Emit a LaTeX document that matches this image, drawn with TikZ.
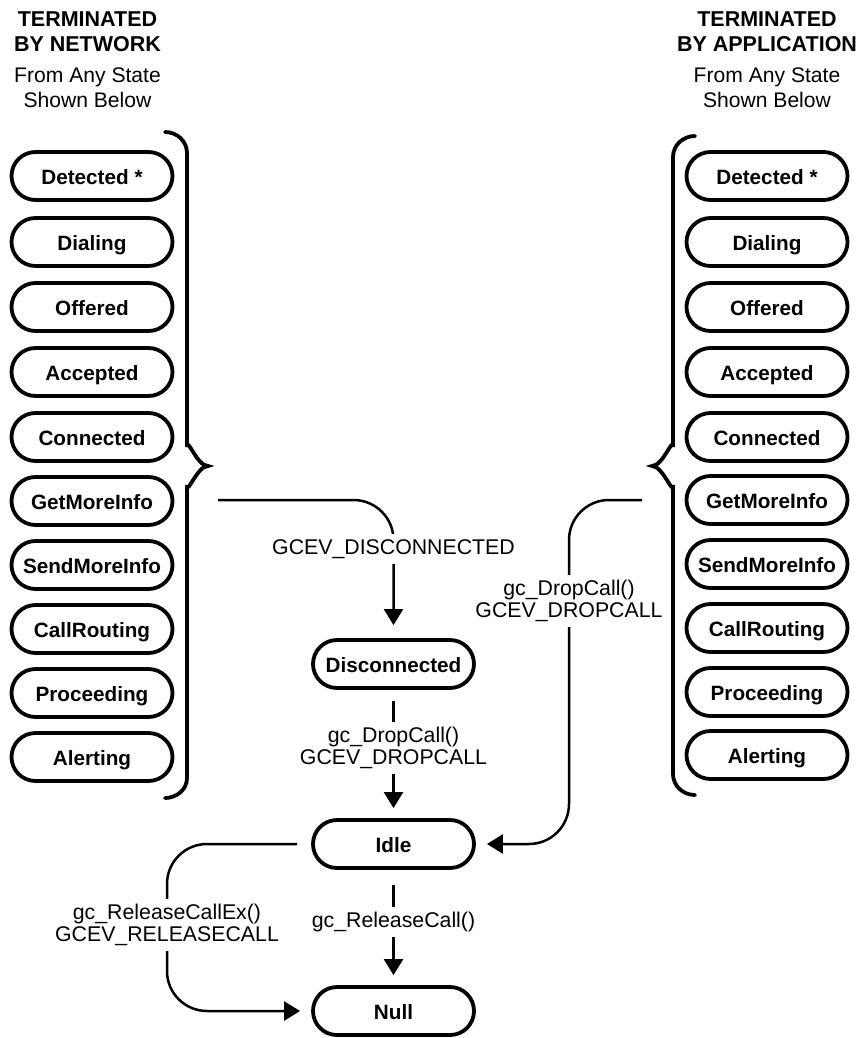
\documentclass[tikz,border=0pt]{standalone}
\usepackage{fontspec}
\setmainfont{Liberation Sans}
\usetikzlibrary{arrows.meta}
\begin{document}
\begin{tikzpicture}[x=1pt,y=-1pt,
  state/.style={draw, line width=3.8pt, rounded corners=24pt,
    minimum width=161pt, minimum height=48pt, inner sep=0pt,
    font=\fontsize{20.7}{24}\selectfont\bfseries,
    text height=17pt, text depth=0pt},
  heading/.style={anchor=base, inner sep=0pt, font=\fontsize{21.5}{24}\selectfont\bfseries},
  subhead/.style={anchor=base, inner sep=0pt, font=\fontsize{21.1}{24}\selectfont},
  brace/.style={line width=3.8pt, line cap=round},
  conn/.style={line width=2.5pt, rounded corners=40pt,
    -{Triangle[length=16pt,width=19pt]}},
  lbl/.style={fill=white, align=center, inner xsep=3pt, inner ysep=5pt,
    font=\fontsize{21.3}{21.5}\selectfont}]
\useasboundingbox (0,0) rectangle (857,1038);

% headings
\node[heading] (hl1) at (87.5,27) {TERMINATED};
\node[heading] (hl2) at (87.5,52) {BY NETWORK};
\node[subhead] (hl3) at (87.5,83) {From Any State};
\node[subhead] (hl4) at (87.5,108) {Shown Below};
\node[heading] (hr1) at (767,27) {TERMINATED};
\node[heading] (hr2) at (767,52) {BY APPLICATION};
\node[subhead] (hr3) at (767,83) {From Any State};
\node[subhead] (hr4) at (767,108) {Shown Below};

% states terminated by the network
\node[state] (nDet)  at (92,176) {Detected *};
\node[state] (nDial) at (92,242) {Dialing};
\node[state] (nOff)  at (92,307) {Offered};
\node[state] (nAcc)  at (92,372) {Accepted};
\node[state] (nCon)  at (92,437) {Connected};
\node[state] (nGet)  at (92,501) {GetMoreInfo};
\node[state] (nSend) at (92,565) {SendMoreInfo};
\node[state] (nRout) at (92,629) {CallRouting};
\node[state] (nProc) at (92,693) {Proceeding};
\node[state] (nAlert) at (92,757) {Alerting};

% states terminated by the application
\node[state] (aDet)  at (767,176) {Detected *};
\node[state] (aDial) at (767,242) {Dialing};
\node[state] (aOff)  at (767,307) {Offered};
\node[state] (aAcc)  at (767,372) {Accepted};
\node[state] (aCon)  at (767,437) {Connected};
\node[state] (aGet)  at (767,500) {GetMoreInfo};
\node[state] (aSend) at (767,564) {SendMoreInfo};
\node[state] (aRout) at (767,628) {CallRouting};
\node[state] (aProc) at (767,692) {Proceeding};
\node[state] (aAlert) at (767,755) {Alerting};

% central states
\node[state] (disc) at (393.5,664) {Disconnected};
\node[state] (idle) at (393.5,844) {Idle};
\node[state] (null) at (393.5,1011) {Null};

% braces
\draw[brace] (165,132) to[out=0,in=90] (187,153) -- (187,447)
  to[out=90,in=180] (208,466) to[out=180,in=-90] (187,485)
  -- (187,778) to[out=-90,in=0] (165,798);
\draw[brace] (695,136) to[out=180,in=90] (673,157) -- (673,447)
  to[out=90,in=0] (652,466) to[out=0,in=-90] (673,485)
  -- (673,774) to[out=-90,in=180] (695,795);

% connectors
\coordinate (netstart) at (218,500);
\coordinate (appstart) at (642,500);
\coordinate (dropbend) at (569,601);
\coordinate (relbend) at (167,925);

\draw[conn, shorten >=13pt] (netstart) -| (disc.north);
\node[lbl] (lblDisc) at (393.5,549) {GCEV\_DISCONNECTED};

\draw[conn, shorten <=11pt, shorten >=10pt] (disc) -- (idle);
\node[lbl] (lblDrop1) at (393.5,748) {gc\_DropCall()\\GCEV\_DROPCALL};

\draw[conn, shorten <=15pt, shorten >=10pt] (idle) -- (null);
\node[lbl] (lblRel) at (393.5,922) {gc\_ReleaseCall()};

\draw[conn, shorten <=14pt, shorten >=11pt] (idle.west) -| (relbend) |- (null.west);
\node[lbl] (lblRelEx) at (relbend) {gc\_ReleaseCallEx()\\GCEV\_RELEASECALL};

\draw[conn, shorten >=11pt] (appstart) -| (dropbend) |- (idle.east);
\node[lbl] (lblDrop2) at (dropbend) {gc\_DropCall()\\GCEV\_DROPCALL};
\end{tikzpicture}
\end{document}
